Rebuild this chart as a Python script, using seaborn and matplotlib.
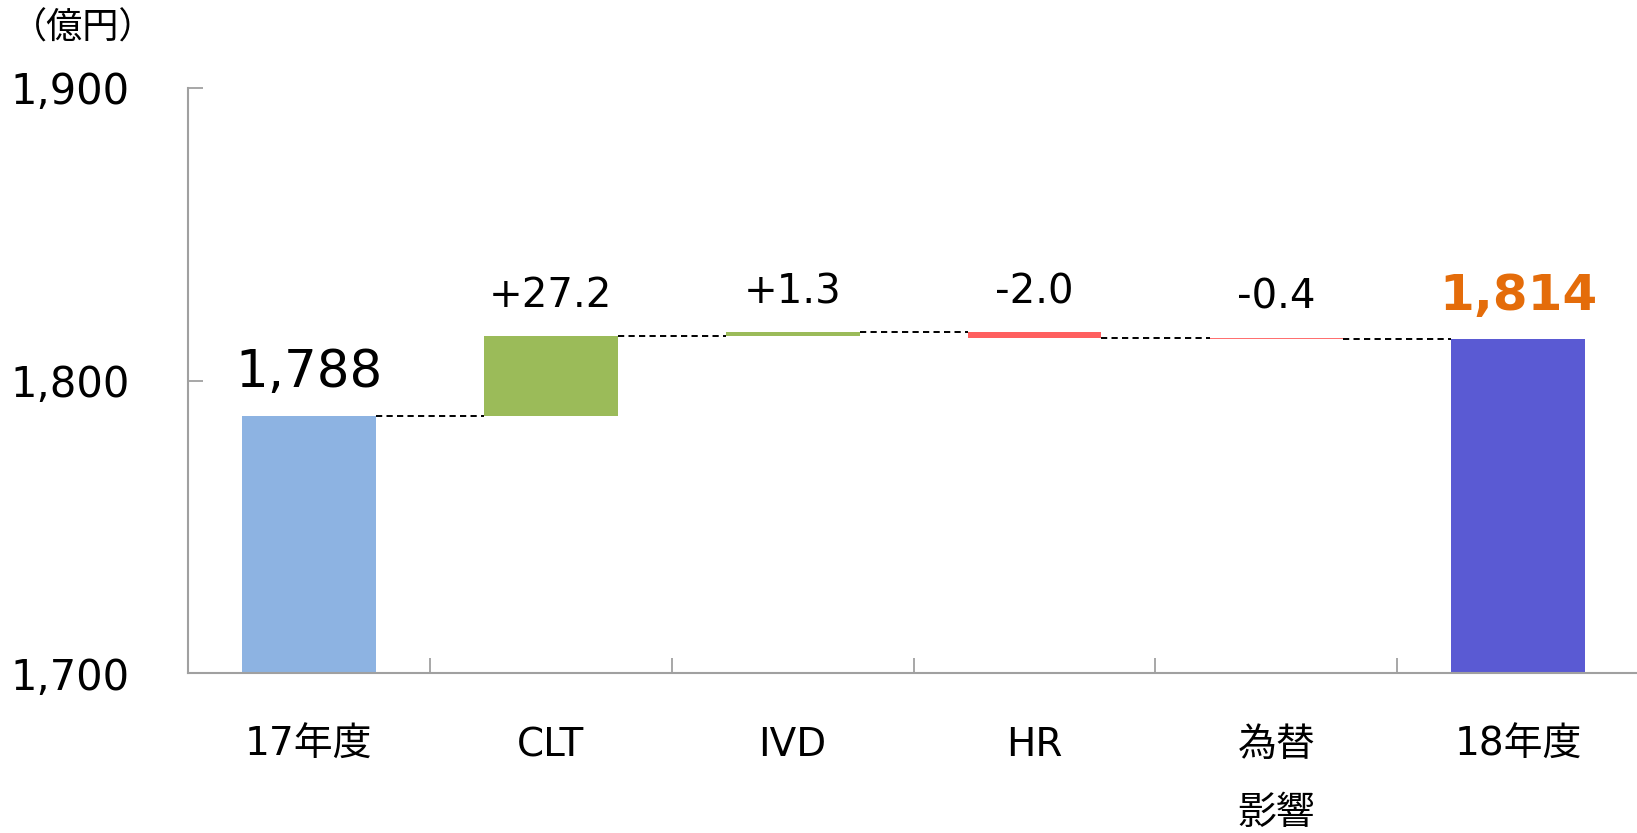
import matplotlib
matplotlib.use("Agg")
import matplotlib.pyplot as plt
import seaborn as sns
import pandas as pd
import numpy as np
from matplotlib.ticker import FixedLocator

categories = ["17年度", "CLT", "IVD", "HR", "為替\n影響", "18年度"]
changes = [1788.0, 27.2, 1.3, -2.0, -0.4, 1814.1]
is_total = [True, False, False, False, False, True]
value_labels = ["1,788", "+27.2", "+1.3", "-2.0", "-0.4", "1,814"]
colors = ["#8DB3E2", "#9BBB59", "#9BBB59", "#FF5F5F", "#FF7070", "#5A5AD3"]
y_ticks = [1700, 1800, 1900]
y_tick_labels = ["1,700", "1,800", "1,900"]
unit_label = "（億円）"

# compute floating bar bottoms / tops
bottoms, tops, running = [], [], 0.0
for c, tot in zip(changes, is_total):
    if tot:
        bottoms.append(0.0)
        tops.append(c)
        running = c
    else:
        bottoms.append(running)
        running = running + c
        tops.append(running)

df = pd.DataFrame({"cat": categories, "h": np.array(tops) - np.array(bottoms)})

sns.set_theme(style="white")
plt.rcParams["font.family"] = ["DejaVu Sans", "Noto Sans CJK JP"]
plt.rcParams["text.color"] = "black"
plt.rcParams["xtick.labelcolor"] = "black"
plt.rcParams["ytick.labelcolor"] = "black"

fig = plt.figure(figsize=(16.37, 8.33), dpi=100)
ax = fig.add_axes([188 / 1637, 1 - 673.4 / 833, 0.8865, (673.4 - 87.7) / 833])

sns.barplot(data=df, x="cat", y="h", hue="cat", palette=colors, width=0.553,
            legend=False, dodge=False, ax=ax, saturation=1, order=categories,
            hue_order=categories)

patches = sorted(ax.patches, key=lambda p: p.get_x())
for p, b in zip(patches, bottoms):
    p.set_y(b)
    p.set_edgecolor("none")

w = 0.553
# connector lines
for i in range(len(categories) - 1):
    lvl = tops[i]
    ax.plot([i + w / 2, i + 1 - w / 2], [lvl, lvl], color="black", lw=1.4,
            dashes=(3.2, 2.2), zorder=3)

# value labels
for i, lab in enumerate(value_labels):
    y = max(bottoms[i], tops[i]) if not is_total[i] else tops[i]
    if i == 0:
        kw = dict(fontsize=37, color="black")
    elif i == len(value_labels) - 1:
        kw = dict(fontsize=36, color="#E46C0A", fontweight="bold")
    else:
        kw = dict(fontsize=29, color="black")
    ax.annotate(lab, (i, y), xytext=(0, 21), textcoords="offset points",
                ha="center", va="baseline", **kw)

ax.set_ylim(1700, 1900)
ax.set_xlim(-0.5, 5.5)
ax.set_xlabel("")
ax.set_ylabel("")

ax.set_yticks(y_ticks)
ax.set_yticklabels(y_tick_labels, fontsize=30, color="black")
ax.tick_params(axis="y", direction="in", length=11, width=1.3, color="#A0A0A0",
               pad=42, left=True)

ax.set_xticks(range(len(categories)))
ax.set_xticklabels(categories, fontsize=28, color="black")
ax.tick_params(axis="x", which="major", length=0, pad=38)
ax.xaxis.set_minor_locator(FixedLocator([0.5, 1.5, 2.5, 3.5, 4.5]))
ax.tick_params(axis="x", which="minor", direction="in", length=11, width=1.3,
               color="#A0A0A0", bottom=True)
for lbl in ax.get_xticklabels():
    lbl.set_linespacing(2.0)

for s in ["top", "right"]:
    ax.spines[s].set_visible(False)
for s in ["left", "bottom"]:
    ax.spines[s].set_color("#A0A0A0")
    ax.spines[s].set_linewidth(1.5)

fig.text(11 / 1637, 1 - 29 / 833, unit_label, fontsize=26, color="black",
         family=["Noto Sans CJK JP", "DejaVu Sans"], ha="left", va="center")

fig.savefig("out.png", dpi=100)
